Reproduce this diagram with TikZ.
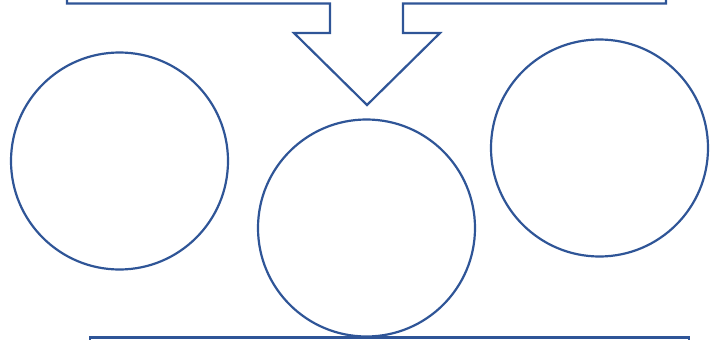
\documentclass[tikz,border=0pt]{standalone}
\usepackage{tikz}
\definecolor{ofblue}{HTML}{2F5597}
\tikzset{
  ring/.style={circle, draw=ofblue, line width=2.2pt, fill=white,
               minimum size=#1, inner sep=0pt},
  ring/.default=217pt,
  outline/.style={draw=ofblue, line width=2.2pt, line join=miter},
}

\begin{document}
\begin{tikzpicture}[x=1pt,y=-1pt]
  \useasboundingbox (0,0) rectangle (710,340);
  \clip (0,0) rectangle (710,340);
  %% Top bar with arrow pointing down
  \draw[outline] (67,-10) -- (67,3.5) -- (330,3.5) -- (330,33) -- (294,33)
    -- (367,105) -- (440,33) -- (403,33) -- (403,3.5) -- (666,3.5) -- (666,-10);
  %% Three circles
  \node[ring] (left)  at (119.5,161) {};
  \node[ring] (mid)   at (366.5,228) {};
  \node[ring] (right) at (599.5,148) {};
  %% Bottom bar
  \draw[outline] (90,350) -- (90,337.5) -- (689,337.5) -- (689,350);
\end{tikzpicture}
\end{document}
